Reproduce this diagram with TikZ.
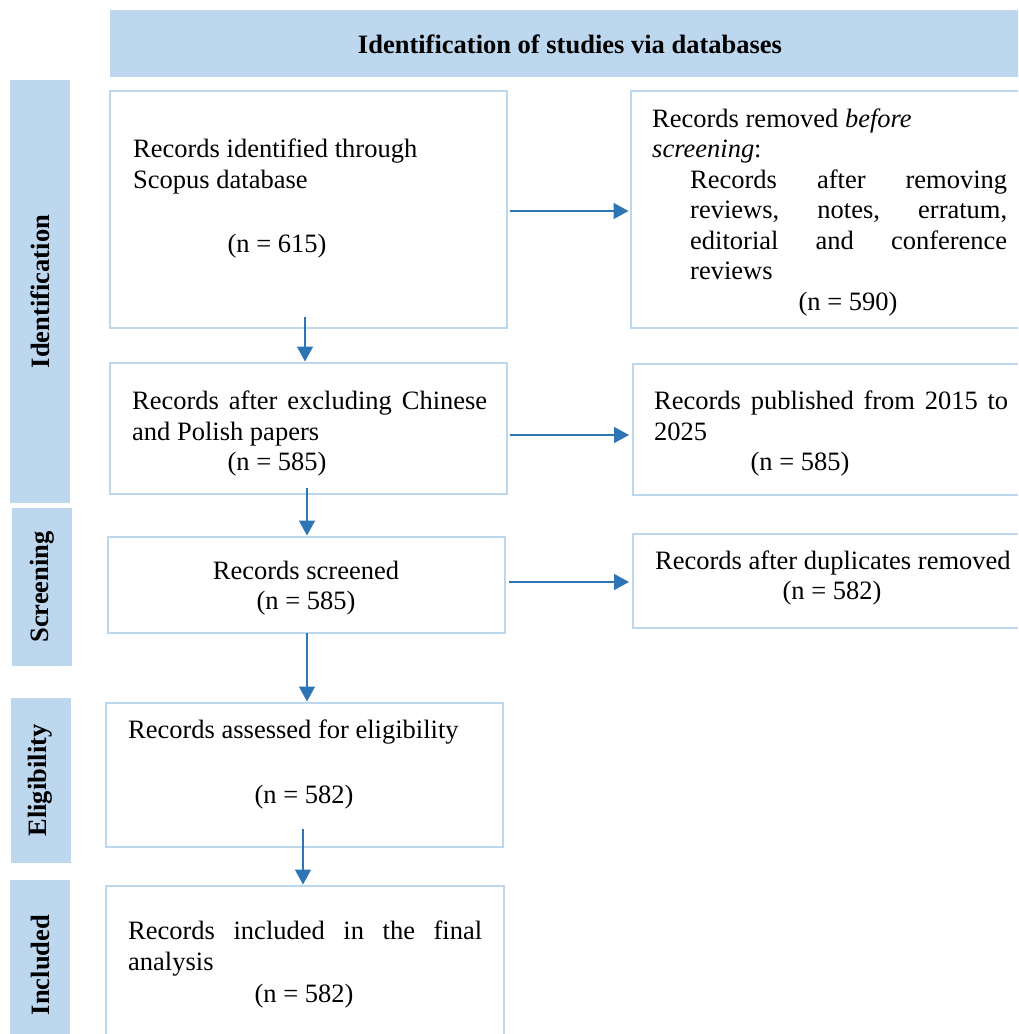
\documentclass[tikz,border=0pt]{standalone}
\usepackage{fontspec}
\setmainfont{Liberation Serif}
\usetikzlibrary{arrows.meta}
\definecolor{lblue}{HTML}{BDD7EE}
\definecolor{boxline}{HTML}{BDD7EE}
\definecolor{ablue}{HTML}{2E75B6}
\newcommand\fs{\fontsize{26.5pt}{30.5pt}\selectfont}
\tikzset{
  box/.style={draw=boxline, line width=2.5pt, fill=white, inner sep=0pt, outer sep=0pt},
  side/.style={fill=lblue, inner sep=0pt, rotate=90, minimum height=60pt, font=\fs\bfseries},
  txt/.style={inner sep=0pt, anchor=base west, font=\fs},
  ctxt/.style={inner sep=0pt, anchor=base, font=\fs},
  arr/.style={draw=ablue, line width=1.5pt, -{Triangle[length=15pt,width=16pt]}},
}
\begin{document}
\begin{tikzpicture}[x=1pt, y=-1pt]
\useasboundingbox (0,0) rectangle (1018,1034);
\clip (0,0) rectangle (1018,1034);
\fill[white] (0,0) rectangle (1018,1034);

% header
\node[fill=lblue, inner sep=0pt, minimum width=930pt, minimum height=67pt] (hdr) at (575,43.5) {};
\node[ctxt, font=\fs\bfseries] (hdrt) at (570,53) {Identification of studies via databases};

% side labels
\node[side, minimum width=423pt] (sid) at (40,291.5) {Identification};
\node[side, minimum width=158pt] (sscr) at (42,587) {Screening};
\node[side, minimum width=165pt] (selg) at (40.5,780.5) {Eligibility};
\node[side, minimum width=170pt] (sinc) at (40,965) {Included};

% boxes
\node[box, minimum width=397pt, minimum height=237pt] (b1) at (308.5,209.5) {};
\node[box, minimum width=397pt, minimum height=131pt] (b2) at (308.5,428.5) {};
\node[box, minimum width=397pt, minimum height=96pt] (b3) at (306.5,585) {};
\node[box, minimum width=397pt, minimum height=144pt] (b4) at (304.5,775) {};
\node[box, minimum width=398pt, minimum height=174pt] (b5) at (305,973) {};
\node[box, minimum width=409pt, minimum height=237pt] (r1) at (835.5,209.5) {};
\node[box, minimum width=407pt, minimum height=131pt] (r2) at (836.5,429.5) {};
\node[box, minimum width=407pt, minimum height=94pt] (r3) at (836.5,581) {};

% box texts
\node[txt] (b1a) at (133,157) {Records identified through};
\node[txt] (b1b) at (133,188) {Scopus database};
\node[ctxt] (b1n) at (277,252) {(n = 615)};

\node[txt] (r1a) at (652,127) {Records removed \textit{before}};
\node[txt] (r1b) at (652,157) {\textit{screening}:};
\node[txt] (r1c) at (690,188) {\makebox[317pt][s]{Records after removing}};
\node[txt] (r1d) at (690,218) {\makebox[317pt][s]{reviews, notes, erratum,}};
\node[txt] (r1e) at (690,249) {\makebox[317pt][s]{editorial and conference}};
\node[txt] (r1f) at (690,279) {reviews};
\node[ctxt] (r1n) at (848,310) {(n = 590)};

\node[txt] (b2a) at (132,409) {\makebox[355pt][s]{Records after excluding Chinese}};
\node[txt] (b2b) at (132,440) {and Polish papers};
\node[ctxt] (b2n) at (277,470) {(n = 585)};

\node[txt] (r2a) at (654,409) {\makebox[354pt][s]{Records published from 2015 to}};
\node[txt] (r2b) at (654,440) {2025};
\node[ctxt] (r2n) at (800,470) {(n = 585)};

\node[ctxt] (b3a) at (306,579) {Records screened};
\node[ctxt] (b3n) at (306,609) {(n = 585)};

\node[txt] (r3a) at (655,569) {Records after duplicates removed};
\node[ctxt] (r3n) at (832,599) {(n = 582)};

\node[txt] (b4a) at (128,738) {Records assessed for eligibility};
\node[ctxt] (b4n) at (304,803) {(n = 582)};

\node[txt] (b5a) at (128,939) {\makebox[354pt][s]{Records included in the final}};
\node[txt] (b5b) at (128,970) {analysis};
\node[ctxt] (b5n) at (304,1002) {(n = 582)};

% vertical arrows
\draw[arr, shorten >=1.5pt] ([xshift=-3.5pt,yshift=11pt]b1.south) -- ([xshift=-3.5pt]b2.north);
\draw[arr, shorten >=1.5pt] ([xshift=-1.5pt,yshift=6pt]b2.south) -- ([xshift=0.5pt]b3.north);
\draw[arr, shorten >=1.5pt] ([xshift=0.5pt]b3.south) -- ([xshift=2.5pt]b4.north);
\draw[arr, shorten >=1.5pt] ([xshift=-1.5pt,yshift=18pt]b4.south) -- ([xshift=-2pt]b5.north);

% horizontal arrows
\draw[arr, shorten <=3pt, shorten >=2.5pt] (b1.east |- 0,211) -- (r1.west |- 0,211);
\draw[arr, shorten <=3pt, shorten >=4pt] (b2.east |- 0,435) -- (r2.west |- 0,435);
\draw[arr, shorten <=4pt, shorten >=4pt] (b3.east |- 0,582) -- (r3.west |- 0,582);
\end{tikzpicture}
\end{document}
